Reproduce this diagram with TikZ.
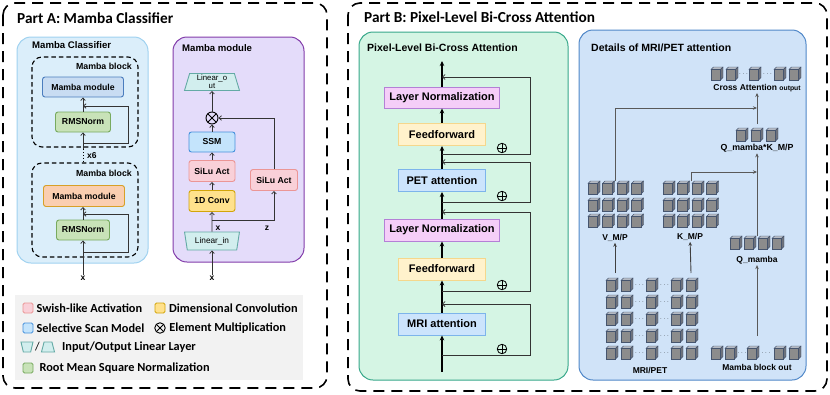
\documentclass[tikz,border=0pt]{standalone}
\usepackage{fontspec}
\setmainfont{Liberation Sans}
\newfontfamily\headfont{Carlito}
\usetikzlibrary{arrows.meta, positioning, shapes.geometric}
\definecolor{clsfill}{RGB}{219,238,250}
\definecolor{clsline}{RGB}{160,210,240}
\definecolor{mmfill}{RGB}{200,220,242}
\definecolor{mmline}{RGB}{75,125,190}
\definecolor{mofill}{RGB}{250,206,176}
\definecolor{moline}{RGB}{215,160,40}
\definecolor{rmsfill}{RGB}{200,226,184}
\definecolor{rmsline}{RGB}{120,170,95}
\definecolor{modfill}{RGB}{228,220,250}
\definecolor{modline}{RGB}{130,60,170}
\definecolor{linfill}{RGB}{210,238,238}
\definecolor{linline}{RGB}{100,170,165}
\definecolor{ssmfill}{RGB}{196,228,252}
\definecolor{ssmline}{RGB}{70,145,220}
\definecolor{silufill}{RGB}{249,208,216}
\definecolor{siluline}{RGB}{235,150,150}
\definecolor{convfill}{RGB}{255,225,140}
\definecolor{convline}{RGB}{210,165,10}
\definecolor{legfill}{RGB}{242,242,242}
\definecolor{grnfill}{RGB}{213,245,228}
\definecolor{grnline}{RGB}{55,168,138}
\definecolor{lnfill}{RGB}{245,206,248}
\definecolor{lnline}{RGB}{180,128,214}
\definecolor{fffill}{RGB}{255,242,204}
\definecolor{ffline}{RGB}{245,215,140}
\definecolor{attfill}{RGB}{204,228,252}
\definecolor{attline}{RGB}{125,180,235}
\definecolor{detfill}{RGB}{208,227,248}
\definecolor{detline}{RGB}{80,135,200}
\definecolor{cubefront}{RGB}{140,140,140}
\definecolor{cubetop}{RGB}{180,186,196}
\definecolor{cubeside}{RGB}{110,114,124}
\definecolor{cubeedge}{RGB}{70,85,110}
\begin{document}
\begin{tikzpicture}[x=1pt,y=-1pt,
    part/.style={draw,line width=1.6pt,dash pattern=on 11pt off 7pt,rounded corners=12pt},
    panel/.style={line width=1pt,rounded corners=14pt},
    mblock/.style={draw,line width=1.1pt,dash pattern=on 4.5pt off 3pt,rounded corners=10pt},
    title/.style={font=\headfont\bfseries\fontsize{15.3}{16}\selectfont,inner sep=0pt},
    plabel/.style={font=\bfseries\fontsize{9.6}{10}\selectfont,inner sep=0pt},
    blabel/.style={font=\bfseries\fontsize{10.5}{11}\selectfont,inner sep=0pt},
    box/.style={draw,rounded corners=2.5pt,line width=0.9pt,align=center,inner sep=1pt,
                font=\bfseries\fontsize{8.7}{9}\selectfont},
    bigbox/.style={draw,line width=0.9pt,inner sep=1pt,minimum height=22pt,
                   font=\bfseries\fontsize{11}{12}\selectfont},
    trap/.style={draw=linline,fill=linfill,line width=0.9pt,trapezium,trapezium stretches=true,
                 trapezium angle=76,align=center,inner sep=1pt,font=\fontsize{7.8}{8.2}\selectfont},
    key/.style={draw,rounded corners=1.5pt,line width=0.8pt,minimum size=10pt,inner sep=0pt},
    legtext/.style={font=\headfont\bfseries\fontsize{12.3}{13}\selectfont,inner sep=0pt,anchor=west},
    small/.style={font=\bfseries\fontsize{8.5}{9}\selectfont,inner sep=1pt},
    times/.style={circle,draw,line width=0.9pt,minimum size=12pt,inner sep=0pt,
      path picture={\draw[line width=0.9pt] (path picture bounding box.north west) -- (path picture bounding box.south east)
        (path picture bounding box.north east) -- (path picture bounding box.south west);}},
    plus/.style={circle,draw,line width=0.8pt,minimum size=9.5pt,inner sep=0pt,
      path picture={\draw[line width=0.8pt] (path picture bounding box.north) -- (path picture bounding box.south)
        (path picture bounding box.west) -- (path picture bounding box.east);}},
    parr/.style={-{Straight Barb[length=2.5pt,width=4.5pt]},line width=0.75pt,draw=black!80},
    barr/.style={-{Stealth[length=5pt,width=4.5pt]},line width=1.3pt},
    rarr/.style={-{Straight Barb[length=2.5pt,width=5pt]},line width=0.85pt,draw=black!80},
    darr/.style={-{Stealth[length=4pt,width=3.5pt]},line width=0.65pt,draw=black!65},
    cube/.pic={
      \filldraw[draw=cubeedge,fill=cubetop,line width=0.4pt] (-6,-4.5) -- (-3.5,-7) -- (6,-7) -- (3.5,-4.5) -- cycle;
      \filldraw[draw=cubeedge,fill=cubeside,line width=0.4pt] (3.5,-4.5) -- (6,-7) -- (6,3.5) -- (3.5,6) -- cycle;
      \filldraw[draw=cubeedge,fill=cubefront,line width=0.4pt] (-6,-4.5) rectangle (3.5,6);
    }]
  \useasboundingbox (0,0) rectangle (830,394);

  % Part A
  \draw[part] (3,3) rectangle (327,388);
  \node[title,anchor=west] (ta) at (17,18) {Part A: Mamba Classifier};
  \draw[panel,draw=clsline,fill=clsfill] (17,37) rectangle (148,263);
  \node[plabel,anchor=west] (tcls) at (32,45) {Mamba Classifier};

  \draw[mblock] (32,57) rectangle (138,147);
  \node[plabel,font=\bfseries\fontsize{8.8}{9}\selectfont,anchor=east] (tblk1) at (132,66) {Mamba block};
  \node[box,fill=mmfill,draw=mmline,minimum width=81pt,minimum height=20pt] (mm1) at (83,87) {Mamba module};
  \node[box,fill=rmsfill,draw=rmsline,minimum width=55pt,minimum height=20pt] (rms1) at (83,122) {RMSNorm};
  \coordinate (in1) at (83,149);
  \coordinate (res1) at (83,143);
  \coordinate (ret1) at (83,106);
  \draw[parr] (in1) -- (rms1);
  \draw[parr] (rms1) -- (mm1);
  \draw[parr] (res1) -- ++(45,0) |- (ret1);
  \draw[line width=0.9pt,dotted] (in1) -- (83,161);
  \node[small,anchor=west] (rep) at (86,156) {x6};

  \draw[mblock] (32,163) rectangle (138,257);
  \node[plabel,font=\bfseries\fontsize{8.8}{9}\selectfont,anchor=east] (tblk2) at (132,173) {Mamba block};
  \node[box,fill=mofill,draw=moline,minimum width=81pt,minimum height=21pt] (mm2) at (84,196) {Mamba module};
  \node[box,fill=rmsfill,draw=rmsline,minimum width=53pt,minimum height=20pt] (rms2) at (83,230) {RMSNorm};
  \node[small] (xa) at (83,278) {x};
  \coordinate (res2) at (83,252);
  \coordinate (ret2) at (83,214);
  \draw[parr] (xa) -- (rms2);
  \draw[parr] (rms2) -- (rms2.north |- mm2.south);
  \draw[parr] (res2) -- ++(45,0) |- (ret2);

  \draw[panel,draw=modline,fill=modfill] (173,37) rectangle (304,262);
  \node[plabel,anchor=west] (tmod) at (182,48) {Mamba module};
  \node[trap,minimum width=55pt,minimum height=17pt,inner sep=0pt] (lout) at (212,82) {Linear\_o\\ut};
  \node[times] (mul) at (212,118) {};
  \node[box,fill=ssmfill,draw=ssmline,minimum width=46pt,minimum height=20pt] (ssm) at (212,142) {SSM};
  \node[box,fill=silufill,draw=siluline,minimum width=46pt,minimum height=21pt] (silu1) at (212,171) {SiLu Act};
  \node[box,fill=convfill,draw=convline,minimum width=46pt,minimum height=21pt] (conv) at (212,201) {1D Conv};
  \node[box,fill=silufill,draw=siluline,minimum width=47pt,minimum height=21pt] (silu2) at (274,180) {SiLu Act};
  \node[trap,shape border rotate=180,minimum width=55pt,minimum height=18pt,inner sep=0pt,font=\fontsize{8.3}{9}\selectfont] (lin) at (212,241) {Linear\_in};
  \node[small] (xb) at (212,278) {x};
  \coordinate (split) at (212,220);
  \node[small] (xlab) at (218,228) {x};
  \node[small] (zlab) at (267,228) {z};
  \draw[parr] (xb) -- (lin);
  \draw[parr] (lin) -- (conv);
  \draw[parr] (split) -| (silu2);
  \draw[parr] (conv) -- (silu1);
  \draw[parr] (silu1) -- (ssm);
  \draw[parr] (ssm) -- (mul);
  \draw[parr] (mul) -- (lout);
  \draw[parr] (silu2) |- (mul);

  \fill[legfill] (15,295) rectangle (303,380);
  \node[key,fill=silufill,draw=siluline] (k1) at (28,308) {};
  \node[legtext,right=3pt of k1] (l1) {Swish-like Activation};
  \node[key,fill=convfill,draw=convline] (k2) at (160,308) {};
  \node[legtext,right=3.5pt of k2] (l2) {Dimensional Convolution};
  \node[key,fill=ssmfill,draw=ssmline] (k3) at (28,328) {};
  \node[legtext,right=3pt of k3] (l3) {Selective Scan Model};
  \node[times,minimum size=10.5pt] (k4) at (160,328) {};
  \node[legtext,right=3.5pt of k4] (l4) {Element Multiplication};
  \node[trap,shape border rotate=180,minimum width=12pt,minimum height=10pt,trapezium angle=72] (k5a) at (27,347) {};
  \node[legtext,font=\headfont\fontsize{12}{13}\selectfont,anchor=center] (k5s) at (37.5,347) {/};
  \node[trap,minimum width=13pt,minimum height=10pt,trapezium angle=72] (k5b) at (48,347) {};
  \node[legtext] (l5) at (62,347) {Input/Output Linear Layer};
  \node[key,fill=rmsfill,draw=rmsline] (k6) at (28,368) {};
  \node[legtext,right=6pt of k6] (l6) {Root Mean Square Normalization};

  % Part B
  \draw[part] (348,3) rectangle (827,391);
  \node[title,anchor=west] (tb) at (364,17) {Part B: Pixel-Level Bi-Cross Attention};
  \draw[panel,draw=grnline,fill=grnfill] (359,32) rectangle (568,380);
  \node[blabel,anchor=west] (tpix) at (367,48) {Pixel-Level Bi-Cross Attention};

  \node[bigbox,fill=lnfill,draw=lnline,minimum width=115pt,minimum height=21pt] (ln1) at (442,97.5) {Layer Normalization};
  \node[bigbox,fill=fffill,draw=ffline,minimum width=87pt] (ff1) at (442,134.5) {Feedforward};
  \node[bigbox,fill=attfill,draw=attline,minimum width=87pt] (pet) at (442,180.5) {PET attention};
  \node[bigbox,fill=lnfill,draw=lnline,minimum width=115pt] (ln2) at (442,230) {Layer Normalization};
  \node[bigbox,fill=fffill,draw=ffline,minimum width=87pt] (ff2) at (442,269) {Feedforward};
  \node[bigbox,fill=attfill,draw=attline,minimum width=87pt] (mri) at (442,324) {MRI attention};
  \coordinate (bin) at (442,372);
  \coordinate (bout) at (442,61);
  \draw[barr] (bin) -- (mri);
  \draw[barr] (mri) -- (ff2);
  \draw[barr] (ff2) -- (ln2);
  \draw[barr] (ln2) -- (pet);
  \draw[barr] (pet) -- (ff1);
  \draw[barr] (ff1) -- (ln1);
  \draw[barr] (ln1) -- (bout);

  \foreach \s/\e/\n in {355/304/1, 291/212/2, 202/162/3, 154/77/4} {
    \coordinate (s\n) at (442,\s);
    \coordinate (e\n) at (442,\e);
    \draw[rarr] (s\n) -- ++(88,0) |- (e\n);
    \node[plus] (add\n) at (502,\s-6) {};
  }

  \draw[panel,draw=detline,fill=detfill] (579,30) rectangle (806,380);
  \node[blabel,anchor=west] (tdet) at (591,48) {Details of MRI/PET attention};

  \foreach \cx in {717,732,755,780,795} \pic at (\cx,74) {cube};
  \node[small,font=\fontsize{6}{6}\selectfont] (cd1) at (743.5,74) {$\cdots$};
  \node[small,font=\fontsize{6}{6}\selectfont] (cd2) at (767.5,74) {$\cdots$};
  \node[small] (cross) at (757,88) {Cross Attention {\fontsize{6.8}{7}\selectfont output}};

  \foreach \cx in {742,757,772} \pic at (\cx,135) {cube};
  \node[small,font=\bfseries\fontsize{8.8}{9}\selectfont] (qklab) at (757,148) {Q\_mamba*K\_M/P};

  \foreach \r in {188,205,221} {
    \foreach \cx in {594,608.5,623,637.5} \pic at (\cx,\r) {cube};
    \foreach \cx in {669,683.5,698,712.5} \pic at (\cx,\r) {cube};
  }
  \node[small] (vlab) at (615,238) {V\_M/P};
  \node[small] (klab) at (690,237) {K\_M/P};

  \foreach \cx in {736,750,764,778} \pic at (\cx,243) {cube};
  \node[small] (qlab) at (757,260) {Q\_mamba};

  \foreach \r in {285,302,319,336,353} {
    \foreach \cx in {612,627,652,677,692} \pic at (\cx,\r) {cube};
    \node[small,font=\fontsize{6}{6}\selectfont] (ga\r) at (639.5,\r) {$\cdots$};
    \node[small,font=\fontsize{6}{6}\selectfont] (gb\r) at (664.5,\r) {$\cdots$};
  }
  \node[small] (mplab) at (650,370) {MRI/PET};

  \foreach \cx in {717,731,753,780,795} \pic at (\cx,353) {cube};
  \node[small,font=\fontsize{6}{6}\selectfont] (od1) at (742,353) {$\cdots$};
  \node[small,font=\fontsize{6}{6}\selectfont] (od2) at (766,353) {$\cdots$};
  \node[small] (outlab) at (757,367) {Mamba block out};

  \coordinate (vtop) at (615,181);
  \coordinate (ktop) at (691,181);
  \coordinate (jv) at (757,108);
  \coordinate (jk) at (757,172);
  \coordinate (qtop) at (757,236);
  \coordinate (qktop) at (757,124);
  \coordinate (mpv) at (615,273);
  \coordinate (mpk) at (691,273);
  \coordinate (otop) at (757,336);
  \draw[darr] (vtop) |- (jv);
  \draw[darr] (ktop) |- (jk);
  \draw[darr] (qtop) -- (qklab);
  \draw[darr] (qktop) -- (cross);
  \draw[darr,line width=0.9pt,draw=black!75] (mpv) -- (vlab);
  \draw[darr,line width=0.9pt,draw=black!75] (mpk) -- (klab);
  \draw[darr] (otop) -- (qlab);
\end{tikzpicture}
\end{document}
